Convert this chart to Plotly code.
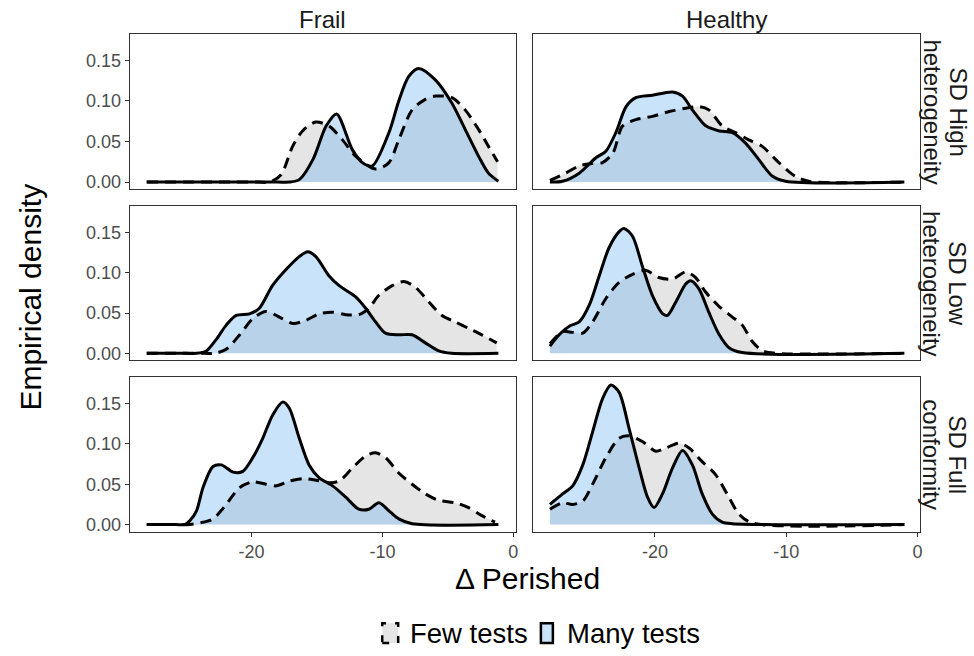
import plotly.graph_objects as go

# ---------------- data ----------------
COLS = ["Frail", "Healthy"]
ROWS = [("SD High", "heterogeneity"), ("SD Low", "heterogeneity"), ("SD Full", "conformity")]
SERIES = ["Few tests", "Many tests"]

# Frail / SD High heterogeneity
FH_MANY_X = [-28, -18.0, -17.1, -16.35, -15.3, -14.3, -13.5, -12.3, -11.53, -10.77, -9.5, -8.75, -8.0, -7.22, -5.96, -4.7, -3.68, -2.66, -1.9, -1.14]
FH_MANY_Y = [0, 0, 0, 0.003, 0.028, 0.069, 0.084, 0.040, 0.024, 0.020, 0.061, 0.100, 0.130, 0.140, 0.126, 0.0975, 0.065, 0.032, 0.011, 0.001]
FH_FEW_X = [-28, -19.5, -18.6, -17.74, -16.86, -16.1, -15.1, -14.07, -13.05, -12.04, -10.5, -9.5, -8.75, -7.73, -6.72, -5.96, -4.69, -3.68, -2.66, -1.9, -1.2]
FH_FEW_Y = [0, 0, 0, 0.009, 0.044, 0.063, 0.074, 0.069, 0.052, 0.032, 0.016, 0.024, 0.052, 0.089, 0.102, 0.106, 0.104, 0.089, 0.065, 0.044, 0.025]

# Healthy / SD High heterogeneity
HH_MANY_X = [-28, -27.04, -25.77, -24.5, -23.74, -22.98, -22.2, -21.46, -20.2, -18.67, -17.9, -17.15, -16.1, -15.1, -14.1, -13.1, -12.1, -11.07, -10.05, -1.0]
HH_MANY_Y = [0, 0.001, 0.011, 0.030, 0.038, 0.061, 0.093, 0.104, 0.107, 0.111, 0.106, 0.089, 0.069, 0.063, 0.061, 0.048, 0.028, 0.0074, 0.001, 0]
HH_FEW_X = [-28, -26.8, -25.77, -24.75, -24.0, -23.2, -22.47, -21.46, -20.2, -18.9, -17.66, -16.65, -15.9, -14.87, -13.86, -12.85, -11.83, -10.56, -9.29, -8.28, -1.0]
HH_FEW_Y = [0.002, 0.011, 0.020, 0.023, 0.024, 0.036, 0.069, 0.077, 0.081, 0.087, 0.091, 0.093, 0.089, 0.069, 0.061, 0.052, 0.044, 0.024, 0.007, 0.001, 0]

# Frail / SD Low heterogeneity
FL_MANY_X = [-28, -25.0, -24.2, -23.45, -22.7, -21.93, -21.17, -20.15, -19.4, -18.4, -17.36, -16.35, -15.7, -15.08, -14.07, -13.3, -12.04, -11.28, -10.52, -9.76, -8.75, -7.73, -6.72, -5.7, -4.7, -1.14]
FL_MANY_Y = [0, 0, 0, 0.003, 0.017, 0.035, 0.047, 0.049, 0.056, 0.084, 0.104, 0.120, 0.126, 0.120, 0.096, 0.084, 0.070, 0.056, 0.039, 0.025, 0.023, 0.023, 0.013, 0.003, 0, 0]
FL_FEW_X = [-28, -23.6, -22.8, -21.93, -20.9, -19.9, -18.9, -17.87, -16.86, -15.84, -14.83, -13.8, -12.8, -11.8, -11.03, -10.27, -9.25, -8.36, -7.48, -6.46, -5.45, -4.44, -3.42, -2.4, -1.27]
FL_FEW_Y = [0, 0, 0, 0.005, 0.023, 0.043, 0.052, 0.045, 0.037, 0.041, 0.049, 0.051, 0.048, 0.048, 0.056, 0.072, 0.084, 0.089, 0.082, 0.064, 0.047, 0.039, 0.031, 0.023, 0.013]

# Healthy / SD Low heterogeneity
HL_MANY_X = [-28, -27.3, -26.5, -25.77, -25.0, -24.25, -23.5, -22.73, -22.35, -21.7, -20.96, -20.2, -19.4, -19.05, -18.4, -17.66, -17.28, -16.65, -15.9, -15.1, -14.36, -13.35, -1.0]
HL_MANY_Y = [0.009, 0.023, 0.034, 0.039, 0.060, 0.096, 0.131, 0.151, 0.155, 0.145, 0.108, 0.072, 0.049, 0.047, 0.064, 0.086, 0.090, 0.080, 0.051, 0.023, 0.007, 0.001, 0]
HL_FEW_X = [-28, -27.04, -26.3, -25.5, -24.75, -23.74, -22.73, -21.7, -20.7, -19.7, -18.67, -17.66, -16.9, -16.14, -15.1, -14.1, -13.35, -12.6, -11.8, -10.8, -1.0]
HL_FEW_Y = [0.012, 0.027, 0.026, 0.025, 0.039, 0.068, 0.088, 0.098, 0.103, 0.094, 0.092, 0.101, 0.094, 0.076, 0.058, 0.045, 0.035, 0.015, 0.003, 0, 0]

# Frail / SD Full conformity
FF_MANY_X = [-28, -25.8, -25.1, -24.7, -24.2, -23.7, -22.94, -22.3, -21.4, -20.66, -19.9, -19.14, -18.38, -17.6, -17.1, -16.35, -15.6, -14.83, -13.8, -12.8, -11.8, -11.03, -10.27, -9.5, -8.75, -7.73, -1.14]
FF_MANY_Y = [0, 0, 0, 0.005, 0.017, 0.046, 0.072, 0.074, 0.065, 0.066, 0.083, 0.107, 0.136, 0.152, 0.144, 0.107, 0.074, 0.058, 0.048, 0.034, 0.019, 0.019, 0.027, 0.017, 0.007, 0.001, 0]
FF_FEW_X = [-28, -25.5, -24.7, -23.95, -22.94, -21.93, -20.9, -19.9, -18.9, -18.1, -17.1, -16.1, -15.08, -14.07, -13.3, -12.3, -11.28, -10.52, -9.76, -8.75, -7.73, -6.72, -5.7, -4.44, -3.42, -2.4, -1.4]
FF_FEW_Y = [0, 0, 0, 0.002, 0.007, 0.025, 0.046, 0.053, 0.050, 0.048, 0.054, 0.057, 0.055, 0.052, 0.054, 0.070, 0.085, 0.089, 0.083, 0.064, 0.050, 0.038, 0.030, 0.027, 0.021, 0.011, 0.003]

# Healthy / SD Full conformity
HF_MANY_X = [-28, -27.04, -26.27, -25.5, -24.75, -24.0, -23.36, -22.73, -21.97, -21.2, -20.57, -20.07, -19.43, -18.67, -17.9, -17.15, -16.4, -15.63, -14.87, -14.1, -1.0]
HF_MANY_Y = [0.025, 0.038, 0.048, 0.074, 0.115, 0.156, 0.173, 0.164, 0.119, 0.070, 0.034, 0.021, 0.038, 0.070, 0.092, 0.074, 0.038, 0.013, 0.003, 0.001, 0]
HF_FEW_X = [-28, -27.04, -26.27, -25.5, -24.75, -23.74, -22.73, -21.97, -20.96, -19.94, -19.18, -18.17, -17.4, -16.4, -15.38, -14.37, -13.6, -12.6, -1.0]
HF_FEW_Y = [0.019, 0.027, 0.025, 0.029, 0.050, 0.083, 0.107, 0.110, 0.103, 0.091, 0.095, 0.101, 0.095, 0.078, 0.062, 0.034, 0.013, 0.002, 0]

X_TICKS = [-20, -10, 0]
X_TICK_LABELS = ["-20", "-10", "0"]
Y_TICKS = [0, 0.05, 0.10, 0.15]
Y_TICK_LABELS = ["0.00", "0.05", "0.10", "0.15"]

PANELS = [
    [(FH_FEW_X, FH_FEW_Y, FH_MANY_X, FH_MANY_Y), (HH_FEW_X, HH_FEW_Y, HH_MANY_X, HH_MANY_Y)],
    [(FL_FEW_X, FL_FEW_Y, FL_MANY_X, FL_MANY_Y), (HL_FEW_X, HL_FEW_Y, HL_MANY_X, HL_MANY_Y)],
    [(FF_FEW_X, FF_FEW_Y, FF_MANY_X, FF_MANY_Y), (HF_FEW_X, HF_FEW_Y, HF_MANY_X, HF_MANY_Y)],
]

# ---------------- styling ----------------
W, H = 974, 656
FONT = "Liberation Sans, Arial, sans-serif"
FEW_FILL = "rgb(229,229,229)"
MANY_FILL = "rgba(98,175,241,0.35)"
LINE_W = 3
DASH = "11px,7px"
BORDER = "#333333"
TICKC = "#4D4D4D"

X_RANGE = [-29.3, 0.2]
Y_RANGE = [-0.0087, 0.1827]

col_px = [(130, 517), (534, 922)]
row_px = [(34, 190), (207, 362), (379, 534)]


def px_x(p):
    return p / W


def px_y(p):
    return 1 - p / H


fig = go.Figure()
layout = {}
for r in range(3):
    for c in range(2):
        idx = r * 2 + c + 1
        xa = "x" if idx == 1 else f"x{idx}"
        ya = "y" if idx == 1 else f"y{idx}"
        few_x, few_y, many_x, many_y = PANELS[r][c]
        common = dict(xaxis=xa, yaxis=ya, showlegend=False, hoverinfo="skip")
        fig.add_trace(go.Scatter(x=few_x, y=few_y, mode="lines", fill="tozeroy",
                                 fillcolor=FEW_FILL, line=dict(width=0, shape="spline", smoothing=0.8),
                                 **common))
        fig.add_trace(go.Scatter(x=many_x, y=many_y, mode="lines", fill="tozeroy",
                                 fillcolor=MANY_FILL, line=dict(width=0, shape="spline", smoothing=0.8),
                                 **common))
        fig.add_trace(go.Scatter(x=few_x, y=few_y, mode="lines",
                                 line=dict(color="black", width=LINE_W, dash=DASH, shape="spline", smoothing=0.8),
                                 **common))
        fig.add_trace(go.Scatter(x=many_x, y=many_y, mode="lines",
                                 line=dict(color="black", width=LINE_W, shape="spline", smoothing=0.8),
                                 **common))

        x0, x1 = col_px[c]
        y0, y1 = row_px[r]
        xkey = "xaxis" if idx == 1 else f"xaxis{idx}"
        ykey = "yaxis" if idx == 1 else f"yaxis{idx}"
        bottom = r == 2
        left = c == 0
        layout[xkey] = dict(
            domain=[px_x(x0), px_x(x1)], anchor=ya, range=X_RANGE,
            showline=True, mirror=True, linecolor=BORDER, linewidth=1,
            showgrid=False, zeroline=False,
            tickmode="array", tickvals=X_TICKS, ticktext=X_TICK_LABELS,
            ticks="outside" if bottom else "", ticklen=4, tickcolor=BORDER,
            showticklabels=bottom,
            tickfont=dict(family=FONT, size=18, color=TICKC),
        )
        layout[ykey] = dict(
            domain=[px_y(y1), px_y(y0)], anchor=xa, range=Y_RANGE,
            showline=True, mirror=True, linecolor=BORDER, linewidth=1,
            showgrid=False, zeroline=False,
            tickmode="array", tickvals=Y_TICKS, ticktext=Y_TICK_LABELS,
            ticks="outside" if left else "", ticklen=4, tickcolor=BORDER,
            showticklabels=left,
            tickfont=dict(family=FONT, size=18, color=TICKC),
        )

annotations = []
# column strips
for c, name in enumerate(COLS):
    x0, x1 = col_px[c]
    annotations.append(dict(text=name, x=px_x((x0 + x1) / 2), y=px_y(20), xref="paper", yref="paper",
                            showarrow=False, xanchor="center", yanchor="middle",
                            font=dict(family=FONT, size=24, color="#1A1A1A")))
# row strips (two lines each, rotated to read top-to-bottom)
for r, (line1, line2) in enumerate(ROWS):
    y0, y1 = row_px[r]
    for text, xc in ((line1, 960), (line2, 934)):
        annotations.append(dict(text=text, x=px_x(xc), y=px_y((y0 + y1) / 2), xref="paper", yref="paper",
                                showarrow=False, xanchor="center", yanchor="middle", textangle=90,
                                font=dict(family=FONT, size=24, color="#1A1A1A")))
# axis titles
annotations.append(dict(text="Δ Perished", x=px_x(529), y=px_y(581), xref="paper", yref="paper",
                        showarrow=False, xanchor="center", yanchor="middle",
                        font=dict(family=FONT, size=30, color="black")))
annotations.append(dict(text="Empirical density", x=px_x(31), y=px_y(298), xref="paper", yref="paper",
                        showarrow=False, xanchor="center", yanchor="middle", textangle=-90,
                        font=dict(family=FONT, size=30, color="black")))
# legend text
LEG_Y = 636
annotations.append(dict(text=SERIES[0], x=px_x(409), y=px_y(LEG_Y), xref="paper", yref="paper",
                        showarrow=False, xanchor="left", yanchor="middle",
                        font=dict(family=FONT, size=27.5, color="black")))
annotations.append(dict(text=SERIES[1], x=px_x(566), y=px_y(LEG_Y), xref="paper", yref="paper",
                        showarrow=False, xanchor="left", yanchor="middle",
                        font=dict(family=FONT, size=27.5, color="black")))

shapes = [
    dict(type="rect", xref="paper", yref="paper",
         x0=px_x(383), x1=px_x(399), y0=px_y(646), y1=px_y(626),
         fillcolor=FEW_FILL, line=dict(color="black", width=2.5, dash="7px,9px")),
    dict(type="rect", xref="paper", yref="paper",
         x0=px_x(542), x1=px_x(554), y0=px_y(646), y1=px_y(626),
         fillcolor="rgb(200,227,250)", line=dict(color="black", width=2.5)),
]

fig.update_layout(
    width=W, height=H,
    margin=dict(l=0, r=0, t=0, b=0),
    paper_bgcolor="white", plot_bgcolor="white",
    showlegend=False,
    annotations=annotations, shapes=shapes,
    **layout,
)

fig.write_html("out.html")
